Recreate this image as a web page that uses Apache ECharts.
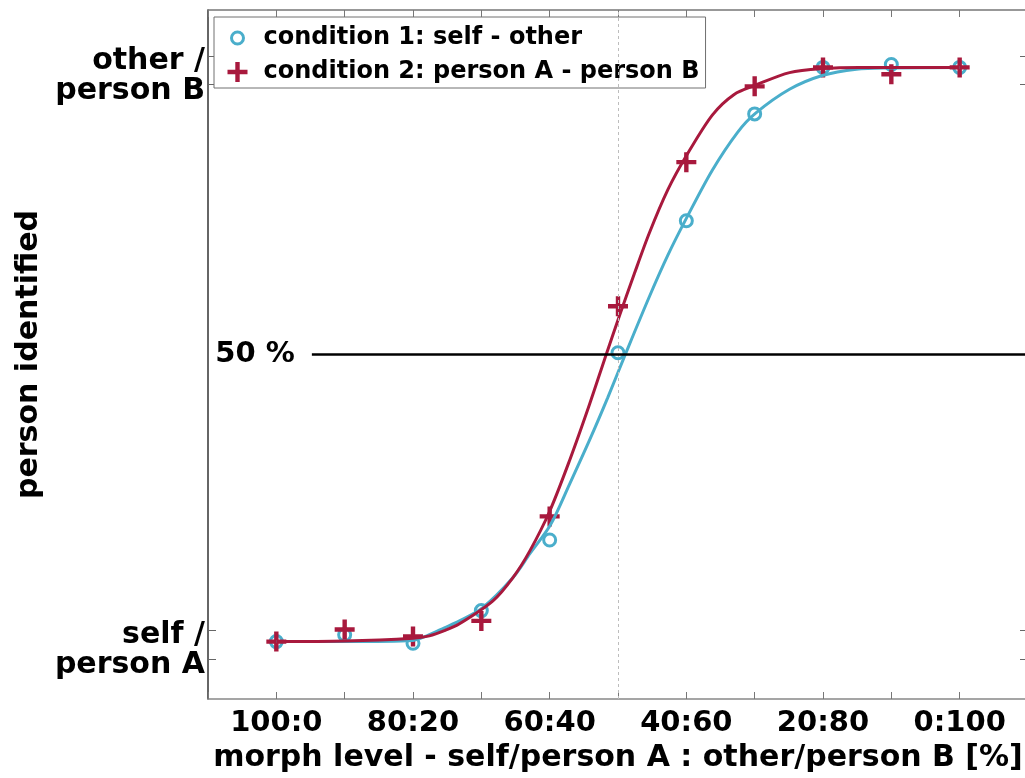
<!DOCTYPE html>
<html>
<head>
<meta charset="utf-8">
<script src="https://cdn.jsdelivr.net/npm/echarts@6/dist/echarts.min.js"></script>
<style>
  html, body { margin: 0; padding: 0; overflow: hidden; background: #ffffff; }
  #chart { width: 1030px; height: 778px; }
</style>
</head>
<body>
<div id="chart"></div>
<script>
// Morph levels (percent of other / person B)
const morphLevels = [0, 10, 20, 30, 40, 50, 60, 70, 80, 90, 100];

// Axis ticks and labels
const xTickValues = [0, 20, 40, 60, 80, 100];
const xTickLabels = ['100:0', '80:20', '60:40', '40:60', '20:80', '0:100'];
const yTickValues = [0, 1];
const yTickLabels = [['self /', 'person A'], ['other /', 'person B']];
const yTickMarks = [-0.03, 0.02, 0.97, 1.02];

// Proportion of "other / person B" responses per morph level
const cond1 = [0, 0.012, -0.003, 0.054, 0.177, 0.503, 0.733, 0.919, 1.0, 1.005, 1.0];
const cond2 = [0, 0.021, 0.009, 0.036, 0.218, 0.584, 0.835, 0.967, 1.0, 0.988, 1.0];

// Fitted psychometric curves, sampled along the morph axis
const fit1X = [0, 10, 20, 22, 24.6, 26.8, 30.2, 34.6, 37.1, 40.1, 42.9, 45.8, 48.5, 51.1, 54.6, 57.3, 60.0, 63.8, 67.5, 70.1, 75.1, 79.9, 84.9, 89.7, 100];
const fit1Y = [0, 0, 0.002, 0.010, 0.024, 0.036, 0.059, 0.111, 0.153, 0.203, 0.274, 0.350, 0.425, 0.501, 0.601, 0.673, 0.737, 0.821, 0.887, 0.920, 0.962, 0.986, 0.997, 0.999, 1.0];
const fit2X = [0, 10, 20, 22.4, 24.6, 26.8, 31.7, 34.6, 37.1, 40.0, 42.9, 45.8, 48.3, 50.2, 52.4, 54.6, 57.3, 60.0, 63.8, 67.0, 70.1, 75.1, 79.9, 85.3, 100];
const fit2Y = [0, 0.001, 0.006, 0.010, 0.019, 0.031, 0.071, 0.111, 0.158, 0.227, 0.315, 0.412, 0.501, 0.567, 0.641, 0.712, 0.787, 0.846, 0.917, 0.953, 0.969, 0.991, 0.998, 1.0, 1.0];

const names = ['condition 1: self - other', 'condition 2: person A - person B'];
const BLUE = '#4aaecb';
const RED = '#a8193d';
const FONT = 'DejaVu Sans';
const PLUS = 'path://M3.9,0H6.1V3.9H10V6.1H6.1V10H3.9V6.1H0V3.9H3.9Z';
const RING = 'path://M0,0M20,20M4,10a6,6 0 1,0 12,0a6,6 0 1,0 -12,0';

const pairs = (xs, ys) => xs.map((x, i) => [x, ys[i]]);

const chart = echarts.init(document.getElementById('chart'), null, { renderer: 'canvas' });

const xBase = {
  type: 'value', min: -10, max: 110, interval: 10,
  splitLine: { show: false },
  axisTick: { inside: true, length: 7, lineStyle: { color: '#777', width: 1 } }
};
const yBase = {
  type: 'value', min: -0.1, max: 1.1,
  splitLine: { show: false },
  axisTick: { inside: true, length: 8, customValues: yTickMarks, lineStyle: { color: '#666', width: 1 } }
};

const labelText = { fontFamily: FONT, fontWeight: 'bold', fontSize: 30, color: '#000', lineHeight: 30, align: 'right' };

chart.setOption({
  animation: false,
  backgroundColor: '#ffffff',
  grid: { left: 208, right: 2, top: 10, bottom: 75, containLabel: false },
  legend: {
    left: 214, top: 17,
    orient: 'vertical',
    padding: [9, 6, 4, 12],
    itemGap: 10,
    itemWidth: 20, itemHeight: 20,
    backgroundColor: '#ffffff',
    borderColor: '#707070', borderWidth: 1,
    selectedMode: false,
    textStyle: { fontFamily: FONT, fontWeight: 'bold', fontSize: 24, color: '#000', padding: [0, 0, 0, 11] },
    data: [
      { name: names[0], icon: RING, itemStyle: { color: 'rgba(0,0,0,0)', borderColor: BLUE, borderWidth: 3 } },
      { name: names[1], icon: PLUS, itemStyle: { color: RED, borderWidth: 0 } }
    ]
  },
  xAxis: [
    Object.assign({}, xBase, {
      position: 'bottom',
      axisLine: { onZero: false, lineStyle: { color: '#888', width: 1.5 } },
      axisLabel: {
        customValues: xTickValues,
        formatter: v => xTickLabels[xTickValues.indexOf(v)],
        fontFamily: FONT, fontWeight: 'bold', fontSize: 29, color: '#000', margin: 10
      },
      name: 'morph level - self/person A : other/person B [%]',
      nameLocation: 'middle', nameGap: 44,
      nameTextStyle: { fontFamily: FONT, fontWeight: 'bold', fontSize: 30, color: '#000' }
    }),
    Object.assign({}, xBase, {
      position: 'top',
      axisLine: { onZero: false, lineStyle: { color: '#777', width: 1.5 } },
      axisLabel: { show: false }
    })
  ],
  yAxis: [
    Object.assign({}, yBase, {
      position: 'left',
      axisLine: { onZero: false, lineStyle: { color: '#333', width: 1.5 } },
      axisLabel: {
        customValues: yTickValues,
        formatter: v => {
          const lines = yTickLabels[yTickValues.indexOf(v)];
          return '{gap| }\n{t|' + lines[0] + '}\n{t|' + lines[1] + '}';
        },
        margin: 3,
        rich: {
          gap: { fontSize: 4, lineHeight: 18 },
          t: labelText
        }
      },
      name: 'person identified',
      nameLocation: 'middle', nameGap: 158,
      nameTextStyle: { fontFamily: FONT, fontWeight: 'bold', fontSize: 30, color: '#000' }
    }),
    Object.assign({}, yBase, {
      position: 'right',
      axisLine: { onZero: false, lineStyle: { color: '#777', width: 1.5 } },
      axisLabel: { show: false }
    })
  ],
  series: [
    {
      name: names[0], type: 'scatter',
      data: pairs(morphLevels, cond1),
      symbol: 'circle', symbolSize: 12,
      itemStyle: { color: 'rgba(0,0,0,0)', borderColor: BLUE, borderWidth: 3, opacity: 1 },
      markLine: {
        silent: true, symbol: 'none', animation: false,
        label: { show: false },
        lineStyle: { color: '#bdbdbd', type: [3, 3], width: 1 },
        data: [{ xAxis: 50 }]
      }
    },
    {
      name: 'fit 1', type: 'line',
      data: pairs(fit1X, fit1Y),
      smooth: 0.3,
      showSymbol: false, symbol: 'none',
      lineStyle: { color: BLUE, width: 3 }
    },
    {
      name: names[1], type: 'scatter',
      data: pairs(morphLevels, cond2),
      symbol: PLUS, symbolSize: 20,
      itemStyle: { color: RED, opacity: 1 }
    },
    {
      name: 'fit 2', type: 'line',
      data: pairs(fit2X, fit2Y),
      smooth: 0.3,
      showSymbol: false, symbol: 'none',
      lineStyle: { color: RED, width: 3 },
      markLine: {
        silent: true, symbol: 'none', animation: false,
        lineStyle: { color: '#000', type: 'solid', width: 2.5 },
        label: {
          show: true, position: 'start', distance: 17,
          formatter: '50 %',
          fontFamily: FONT, fontWeight: 'bold', fontSize: 29, color: '#000'
        },
        data: [[{ coord: [5.2, 0.5] }, { coord: [110, 0.5] }]]
      }
    }
  ]
});
</script>
</body>
</html>
